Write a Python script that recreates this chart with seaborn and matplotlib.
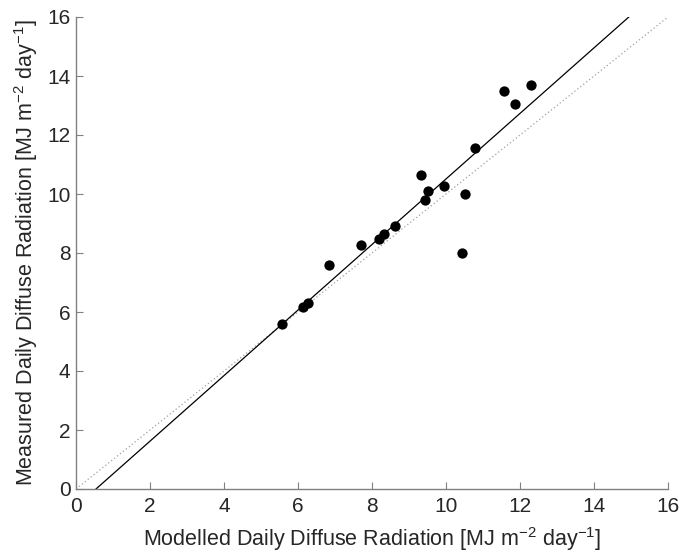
import matplotlib
matplotlib.use("Agg")
import matplotlib.pyplot as plt
import seaborn as sns
import numpy as np
import pandas as pd

modelled = [12.30, 11.56, 11.86, 10.79, 9.32, 9.51, 9.94, 9.44, 10.52, 8.62,
            8.33, 8.18, 7.71, 10.42, 6.83, 5.57, 6.13, 6.26]
measured = [13.71, 13.50, 13.05, 11.56, 10.65, 10.11, 10.28, 9.80, 10.01, 8.93,
            8.66, 8.49, 8.27, 8.01, 7.60, 5.58, 6.17, 6.32]
fit_slope = 1.111
fit_intercept = -0.60
ticks = [0, 2, 4, 6, 8, 10, 12, 14, 16]

sns.set_style("white")
plt.rcParams['font.family'] = ['Liberation Sans', 'DejaVu Sans']
plt.rcParams['mathtext.fontset'] = 'custom'
plt.rcParams['mathtext.rm'] = 'Liberation Sans'
plt.rcParams['mathtext.it'] = 'Liberation Sans'
plt.rcParams['mathtext.default'] = 'regular'

fig = plt.figure(figsize=(6.87, 5.57), dpi=100)
ax = fig.add_axes([76/687, 1-489/557, 592/687, 472/557])

df = pd.DataFrame({"modelled": modelled, "measured": measured})

xs = np.array([0, 16])
ax.plot(xs, xs, linestyle=(0, (1, 2)), color="#a0a0a0", linewidth=0.9)
ax.plot(xs, fit_slope * xs + fit_intercept, color="black", linewidth=0.9)
sns.scatterplot(data=df, x="modelled", y="measured", ax=ax, color="black",
                s=55, edgecolor="black", linewidth=0, zorder=3)

ax.set_xlim(0, 16)
ax.set_ylim(0, 16)
ax.set_xticks(ticks)
ax.set_yticks(ticks)
ax.tick_params(direction="in", length=5, width=0.8, color="#808080",
               labelsize=15, bottom=True, left=True)
ax.tick_params(axis="x", pad=6)
ax.tick_params(axis="y", pad=4)
for side in ["top", "right"]:
    ax.spines[side].set_visible(False)
for side in ["left", "bottom"]:
    ax.spines[side].set_color("#808080")
    ax.spines[side].set_linewidth(1.0)

ax.set_xlabel("Modelled Daily Diffuse Radiation [MJ m$^{-2}$ day$^{-1}$]", fontsize=15.5, labelpad=6)
ax.set_ylabel("Measured Daily Diffuse Radiation [MJ m$^{-2}$ day$^{-1}$]", fontsize=15.5, labelpad=5)

fig.savefig("out.png", dpi=100)
